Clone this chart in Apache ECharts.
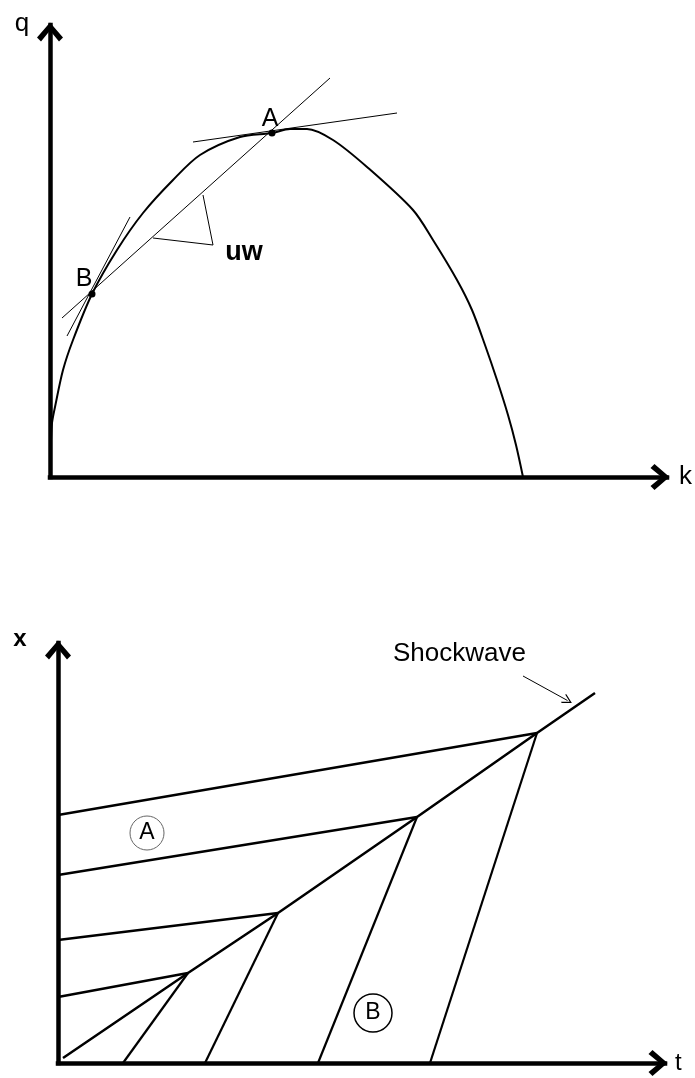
<!DOCTYPE html>
<html>
<head>
<meta charset="utf-8">
<title>Flow-density curve and shockwave</title>
<script src="https://cdn.jsdelivr.net/npm/echarts@6/dist/echarts.min.js"></script>
<style>
  html, body { margin: 0; padding: 0; background: #fff; }
  #chart { width: 695px; height: 1078px; }
</style>
</head>
<body>
<div id="chart"></div>
<script>
// top panel: flow q against density k (units)
const flowCurve = [
  [0, 0], [0.2, 7.4], [0.4, 10.8], [1, 14], [2.6, 21.4], [4.6, 27.4], [8.4, 36.6],
  [13.4, 45.4], [18.6, 52.8], [24.6, 59.4], [30, 64.4], [38, 68], [44.4, 68.8],
  [48, 69.6], [51.4, 69.6], [56.6, 67.4], [63.4, 62], [72.6, 53.4], [76.6, 47.4],
  [81.4, 39.4], [84.4, 33.4], [87, 26.4], [89.4, 19.4], [91.6, 12.4], [93.2, 6.4], [94.6, 0]
];
const pointA = [44.4, 68.8];
const pointB = [8.4, 36.6];
const tangentA = [[28.6, 67], [69.4, 72.8]];
const tangentB = [[3.4, 28.2], [16, 52]];
const chordAB = [[2.4, 31.8], [56, 79.8]];
const slopeTriangle = [[30.6, 56.4], [32.6, 46.4], [20.6, 47.8]];
const slopeLabel = [38.8, 44.8];

// bottom panel: time-space diagram
const shockPath = [[1, 1], [26, 18], [44, 30], [71.8, 49.2], [95.8, 66], [107.4, 74]];
const upstreamStartX = [13.2, 24.6, 37.6, 49.6];   // on the x axis (t = 0)
const downstreamStartT = [13, 29.4, 52, 74.4];    // on the t axis (x = 0)
const regionA = [17.8, 46];
const regionB = [63, 10];
const shockLabel = [80.3, 81.8];
const shockPointer = [[93, 77.4], [101.9, 72.5]];

const FONT = '"Liberation Sans", Arial, sans-serif';
const chevron = 'path://M13,0 L26,15 L22,19 L13,8 L4,19 L0,15 Z';
const openHead = 'path://M6,0 L12,9 L11,10 L6,2.5 L1,10 L0,9 Z';

function axisBase(gridIndex, max, name, nameGap, nameStyle) {
  return {
    type: 'value',
    gridIndex: gridIndex,
    min: 0,
    max: max,
    name: name,
    nameLocation: 'end',
    nameGap: nameGap,
    nameTextStyle: Object.assign({ fontFamily: FONT, color: '#000' }, nameStyle),
    axisLine: {
      show: true,
      onZero: false,
      symbol: ['none', chevron],
      symbolSize: [26, 20],
      symbolOffset: [0, -7],
      lineStyle: { color: '#000', width: 4.5, cap: 'square' }
    },
    axisTick: { show: false },
    axisLabel: { show: false },
    splitLine: { show: false }
  };
}

function segment(data, xi, width, extra) {
  return Object.assign({
    type: 'line',
    xAxisIndex: xi,
    yAxisIndex: xi,
    data: data,
    symbol: 'none',
    silent: true,
    lineStyle: { color: '#000', width: width }
  }, extra || {});
}

function textLabel(size, weight) {
  return {
    show: true, position: 'inside', color: '#000', fontFamily: FONT,
    fontSize: size, fontWeight: weight || 'normal', textBorderWidth: 0
  };
}

const series = [
  segment(flowCurve, 0, 2, { smooth: 0.3 }),
  segment(tangentA, 0, 1),
  segment(tangentB, 0, 1),
  segment(chordAB, 0, 1),
  segment(slopeTriangle, 0, 1),
  {
    type: 'scatter',
    xAxisIndex: 0,
    yAxisIndex: 0,
    symbolSize: 7,
    silent: true,
    itemStyle: { color: '#000', opacity: 1 },
    label: Object.assign(textLabel(25), { formatter: '{b}' }),
    data: [
      { name: 'A', value: pointA, label: { offset: [-2, -14] } },
      { name: 'B', value: pointB, label: { offset: [-8, -15] } }
    ]
  },
  {
    type: 'scatter',
    xAxisIndex: 0,
    yAxisIndex: 0,
    symbolSize: 0,
    silent: true,
    itemStyle: { opacity: 1 },
    label: Object.assign(textLabel(27, 'bold'), { formatter: 'uw' }),
    data: [slopeLabel]
  }
];

// shock path and the two families of waves meeting it
series.push(segment(shockPath, 1, 2.5));
upstreamStartX.forEach(function (x0, i) {
  series.push(segment([[0, x0], shockPath[i + 1]], 1, 2.5));
});
downstreamStartT.forEach(function (t0, i) {
  series.push(segment([[t0, 0], shockPath[i + 1]], 1, 2.2));
});
series.push({
  type: 'scatter',
  xAxisIndex: 1,
  yAxisIndex: 1,
  symbol: 'circle',
  silent: true,
  label: Object.assign(textLabel(23), { formatter: '{b}' }),
  data: [
    { name: 'A', value: regionA, symbolSize: 34, itemStyle: { color: '#fff', borderColor: '#666', borderWidth: 1, opacity: 1 } },
    { name: 'B', value: regionB, symbolSize: 38, itemStyle: { color: '#fff', borderColor: '#000', borderWidth: 1.5, opacity: 1 } }
  ]
});
series.push({
  type: 'scatter',
  xAxisIndex: 1,
  yAxisIndex: 1,
  symbolSize: 0,
  silent: true,
  itemStyle: { opacity: 1 },
  label: Object.assign(textLabel(26), { formatter: 'Shockwave' }),
  data: [shockLabel]
});
series.push({
  type: 'lines',
  coordinateSystem: 'cartesian2d',
  xAxisIndex: 1,
  yAxisIndex: 1,
  symbol: ['none', openHead],
  symbolSize: [12, 10],
  silent: true,
  lineStyle: { color: '#000', width: 1, opacity: 1 },
  data: [{ coords: shockPointer }]
});

const chart = echarts.init(document.getElementById('chart'));
chart.setOption({
  backgroundColor: '#fff',
  animation: false,
  grid: [
    { left: 50, top: 25, width: 617, height: 452, outerBoundsMode: 'none' },
    { left: 58, top: 643, width: 607, height: 420, outerBoundsMode: 'none' }
  ],
  xAxis: [
    axisBase(0, 123.4, 'k', 12, { fontSize: 26 }),
    axisBase(1, 121.4, 't', 10, { fontSize: 24, padding: [10, 0, 0, 0] })
  ],
  yAxis: [
    axisBase(0, 90.4, 'q', 1, { fontSize: 26, align: 'center', verticalAlign: 'middle', padding: [0, 56, 0, 0] }),
    axisBase(1, 84, 'x', 4, { fontSize: 24, fontWeight: 'bold', align: 'center', verticalAlign: 'middle', padding: [0, 76, 0, 0] })
  ],
  series: series
});
</script>
</body>
</html>
